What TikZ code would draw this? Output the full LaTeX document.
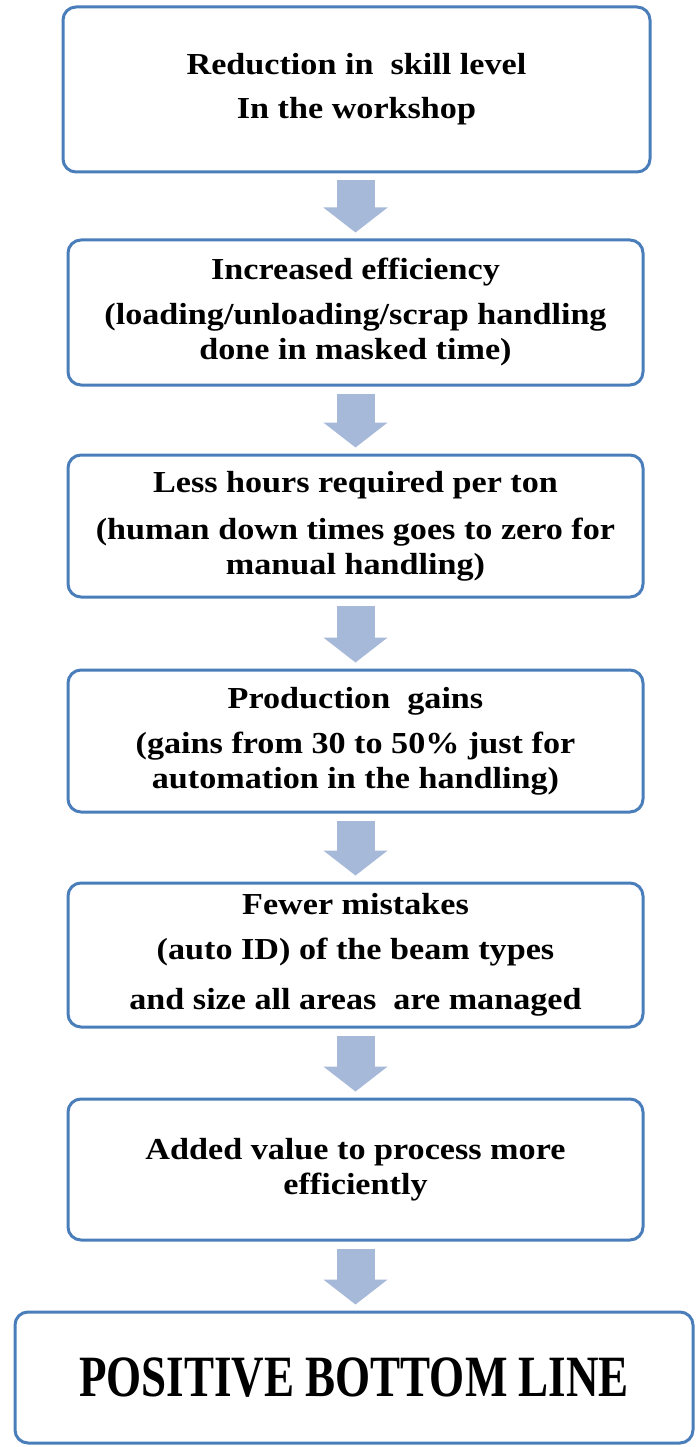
\documentclass[tikz,border=0pt]{standalone}
\usepackage{fontspec}
\usetikzlibrary{arrows.meta}
\newfontfamily\boxfont{Liberation Serif}[FakeStretch=1.12]
\newfontfamily\bigfont{Liberation Serif}[FakeStretch=0.77]
\definecolor{boxline}{HTML}{4A7EBB}
\definecolor{arrowfill}{HTML}{A7B9D9}
\tikzset{
  stagebox/.style={draw=boxline, line width=3pt, rounded corners=13pt, fill=white,
    align=center, inner sep=0pt, text=black,
    font=\boxfont\bfseries\fontsize{30.5}{35}\selectfont},
  flowarrow/.style={draw=arrowfill, line width=38pt,
    -{Triangle[width=63pt,length=25pt,fill=arrowfill]},
    shorten <=7pt, shorten >=6pt}
}
\begin{document}
\begin{tikzpicture}[x=1pt,y=-1pt]
\useasboundingbox (0,0) rectangle (699,1447);
\fill[white] (0,0) rectangle (699,1447);

% the chain of stages
\node[stagebox, minimum width=587pt, minimum height=165pt] (b1) at (356.5,89.5)
  {Reduction in\ \ skill level\\[9pt]In the workshop};
\node[stagebox, minimum width=575pt, minimum height=145pt] (b2) at (355.5,312.5)
  {Increased efficiency\\[10pt](loading/unloading/scrap handling\\done in masked time)};
\node[stagebox, minimum width=575pt, minimum height=142pt] (b3) at (355.5,526)
  {Less hours required per ton\\[12pt](human down times goes to zero for\\manual handling)};
\node[stagebox, minimum width=575pt, minimum height=142pt] (b4) at (355.5,741)
  {Production\ \ gains\\[10pt](gains from 30 to 50\% just for\\automation in the handling)};
\node[stagebox, minimum width=575pt, minimum height=144pt] (b5) at (355.5,955)
  {Fewer mistakes\\[10pt](auto ID) of the beam types\\[15pt]and size all areas\ \ are managed};
\node[stagebox, minimum width=575pt, minimum height=141pt] (b6) at (355.5,1169.5)
  {Added value to process more\\efficiently};
\node[stagebox, minimum width=678pt, minimum height=131pt,
      font=\bigfont\bfseries\fontsize{58.5}{60}\selectfont] (b7) at (354,1377.5)
  {POSITIVE BOTTOM LINE};

% block arrows between the stages
\draw[flowarrow] (b1.south -| b2.north) -- (b2.north);
\draw[flowarrow] (b2.south) -- (b3.north);
\draw[flowarrow] (b3.south) -- (b4.north);
\draw[flowarrow] (b4.south) -- (b5.north);
\draw[flowarrow] (b5.south) -- (b6.north);
\draw[flowarrow] (b6.south) -- (b6.south |- b7.north);
\end{tikzpicture}
\end{document}
